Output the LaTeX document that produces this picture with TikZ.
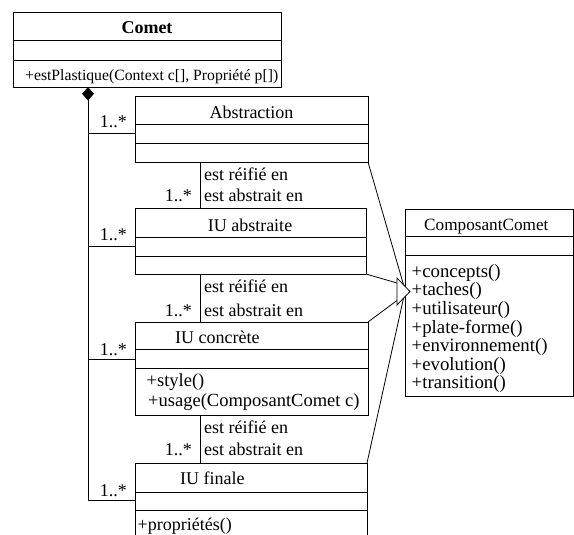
\documentclass[tikz,border=0pt]{standalone}
\usepackage{fontspec}
\setmainfont{Liberation Serif}
\begin{document}
\begin{tikzpicture}[x=1pt,y=-1pt,
  box/.style={draw=black,line width=0.8pt},
  ln/.style={draw=black,line width=0.8pt},
  txt/.style={inner sep=0pt,font=\fontsize{18}{18.6}\selectfont},
  lbl/.style={txt,anchor=base west},
  mult/.style={txt,anchor=base east},
  meth/.style={lbl,font=\fontsize{18.8}{19}\selectfont},
]
\useasboundingbox (0,0) rectangle (574,535);

% ---------- Comet ----------
\draw[box] (13,12) rectangle (281,87.5);
\draw[box] (13,40.5) -- (281,40.5);
\draw[box] (13,60) -- (281,60);
\node[txt,anchor=base,font=\fontsize{18}{18}\selectfont\bfseries] (cometT) at (147,34) {Comet};
\node[txt,anchor=base west,font=\fontsize{15.7}{16}\selectfont] (cometM) at (25,81) {+estPlastique(Context c[], Propriété p[])};
\coordinate (diaTop) at (88,87.5);
\coordinate (dia) at (88,100);
\draw[fill=black,line width=0.5pt] (diaTop) -- (82.5,93.8) -- (dia) -- (93.5,93.8) -- cycle;

% ---------- Abstraction ----------
\draw[box] (135,96) rectangle (368,162);
\draw[box] (135,124) -- (368,124);
\draw[box] (135,143) -- (368,143);
\node[txt,anchor=base] (absT) at (251.5,119) {Abstraction};

% ---------- IU abstraite ----------
\draw[box] (135,208) rectangle (366,274);
\draw[box] (135,237) -- (366,237);
\draw[box] (135,256) -- (366,256);
\node[txt,anchor=base] (iuaT) at (250,231) {IU abstraite};

% ---------- IU concrete ----------
\draw[box] (135,322) rectangle (368,415);
\draw[box] (135,349) -- (368,349);
\draw[box] (135,368) -- (368,368);
\node[txt,anchor=base west] (iucT) at (175,343) {IU concrète};
\node[meth,font=\fontsize{18.5}{19}\selectfont] (iucM1) at (146.5,386) {+style()};
\node[meth,font=\fontsize{18.5}{19}\selectfont] (iucM2) at (148,406) {+usage(ComposantComet c)};

% ---------- IU finale ----------
\draw[box] (135,535) -- (135,463) -- (367,463) -- (367,535);
\draw[box] (135,492) -- (367,492);
\draw[box] (135,510) -- (367,510);
\node[txt,anchor=base west] (iufT) at (180,484) {IU finale};
\node[lbl] (iufM) at (137.5,530) {+propriétés()};

% ---------- ComposantComet ----------
\draw[box] (405,209) rectangle (573,396);
\draw[box] (405,236) -- (573,236);
\draw[box] (405,255) -- (573,255);
\node[txt,anchor=base west,font=\fontsize{17.2}{18}\selectfont] (ccT) at (424,230.5) {ComposantComet};
\node[meth] (cc1) at (411.5,277.3) {+concepts()};
\node[meth] (cc2) at (411.5,295.9) {+taches()};
\node[meth] (cc3) at (411.5,314.5) {+utilisateur()};
\node[meth] (cc4) at (411.5,333.1) {+plate-forme()};
\node[meth] (cc5) at (411.5,351.7) {+environnement()};
\node[meth] (cc6) at (411.5,370.3) {+evolution()};
\node[meth] (cc7) at (411.5,388.9) {+transition()};

% ---------- composition (left bus) ----------
\coordinate (bA) at (88,133);   \coordinate (wA) at (135,133);
\coordinate (bB) at (88,246);   \coordinate (wB) at (135,246);
\coordinate (bC) at (88,359);   \coordinate (wC) at (135,359);
\coordinate (bD) at (88,500);   \coordinate (wD) at (135,500);
\draw[ln] (dia) -- (bD);
\draw[ln] (bA) -- (wA);
\draw[ln] (bB) -- (wB);
\draw[ln] (bC) -- (wC);
\draw[ln] (bD) -- (wD);
\node[mult] (mA) at (127,127.7) {1..*};
\node[mult] (mB) at (127,240.7) {1..*};
\node[mult] (mC) at (127,355) {1..*};
\node[mult] (mD) at (127,496.7) {1..*};

% ---------- vertical associations ----------
\coordinate (v1a) at (200,162); \coordinate (v1b) at (200,208);
\coordinate (v2a) at (200,274); \coordinate (v2b) at (200,322);
\coordinate (v3a) at (200,415); \coordinate (v3b) at (200,463);
\draw[ln] (v1a) -- (v1b);
\draw[ln] (v2a) -- (v2b);
\draw[ln] (v3a) -- (v3b);
\node[lbl] (r1) at (204,180) {est réifié en};
\node[lbl] (a1) at (204,201.7) {est abstrait en};
\node[mult] (m1) at (192,201.7) {1..*};
\node[lbl] (r2) at (204,292.7) {est réifié en};
\node[lbl] (a2) at (204,316) {est abstrait en};
\node[mult] (m2) at (192,316) {1..*};
\node[lbl] (r3) at (204,433) {est réifié en};
\node[lbl] (a3) at (204,455.7) {est abstrait en};
\node[mult] (m3) at (192,455.7) {1..*};

% ---------- generalization ----------
\coordinate (cA) at (368,162);
\coordinate (cB) at (366,274);
\coordinate (cC) at (368,322);
\coordinate (cD) at (367,463);
\coordinate (tUp) at (403.5,284.7);
\coordinate (tB1) at (397,283);
\coordinate (tB2) at (397,300.5);
\coordinate (tLo) at (403.5,298.3);
\draw[ln] (cA) -- (tUp);
\draw[ln] (cB) -- (tB1);
\draw[ln] (cC) -- (tB2);
\draw[ln] (cD) -- (tLo);
\coordinate (tip) at (410,291.5);
\draw[ln,fill=white] (397,278) -- (tip) -- (397,305) -- cycle;
\end{tikzpicture}
\end{document}
